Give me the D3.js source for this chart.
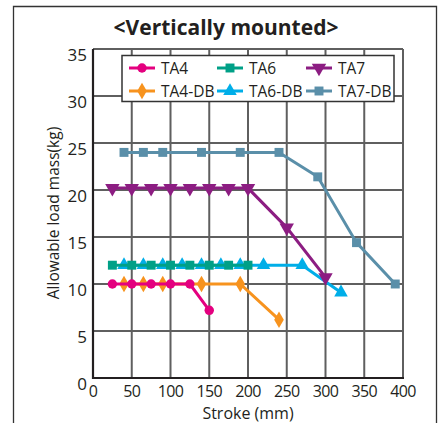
<!DOCTYPE html>
<html><head><meta charset="utf-8">
<script src="https://cdn.jsdelivr.net/npm/d3@7"></script>
<style>
body{margin:0;background:#fff;}
svg{display:block;font-family:"Open Sans","Noto Sans",sans-serif;}
</style></head>
<body><svg id="c" width="441" height="423"></svg>
<script>
const xTicks = [0,50,100,150,200,250,300,350,400];
const yTicks = [0,5,10,15,20,25,30,35];
const seriesNames = ["TA4","TA6","TA7","TA4-DB","TA6-DB","TA7-DB"];
const ta4   = [[25,10],[50,10],[75,10],[100,10],[125,10],[150,7.2]];
const ta4db = [[40,10],[65,10],[90,10],[140,10],[190,10],[240,6.2]];
const ta6   = [[25,12],[50,12],[75,12],[100,12],[125,12],[150,12],[175,12],[200,12]];
const ta6db = [[40,12],[65,12],[90,12],[115,12],[140,12],[165,12],[190,12],[220,12],[270,12],[320,9.1]];
const ta7   = [[25,20.2],[50,20.2],[75,20.2],[100,20.2],[125,20.2],[150,20.2],[175,20.2],[200,20.2],[250,16],[300,10.7]];
const ta7db = [[40,24],[65,24],[90,24],[140,24],[190,24],[240,24],[290,21.4],[340,14.4],[390,10]];

const colors = {"TA4":"#e4007f","TA6":"#00a087","TA7":"#8c1d82","TA4-DB":"#f7931e","TA6-DB":"#00aee8","TA7-DB":"#5a8fa9"};
const shapes = {"TA4":d3.symbolCircle,"TA6":d3.symbolSquare,"TA7":"down","TA4-DB":d3.symbolDiamond,"TA6-DB":d3.symbolTriangle,"TA7-DB":d3.symbolSquare};
const sizes = {"TA4":70,"TA6":80,"TA7":90,"TA4-DB":80,"TA6-DB":80,"TA7-DB":80};
const dataMap = {"TA4":ta4,"TA6":ta6,"TA7":ta7,"TA4-DB":ta4db,"TA6-DB":ta6db,"TA7-DB":ta7db};
const drawOrder = ["TA6-DB","TA6","TA4-DB","TA4","TA7","TA7-DB"];

const svg = d3.select("#c");
const x = d3.scaleLinear().domain([0,400]).range([93,403]);
const y = d3.scaleLinear().domain([0,35]).range([378,49]);

// outer frame
svg.append("path").attr("d","M13.5,423 V6.5 H436.5 V423").attr("fill","none").attr("stroke","#333").attr("stroke-width",1.3);

// title
svg.append("text").attr("x",226).attr("y",35).attr("text-anchor","middle")
  .attr("font-size",21).attr("font-weight","bold").attr("fill","#231f20").text("<Vertically mounted>");

// grid
const g = svg.append("g");
g.selectAll("line.vx").data(xTicks).join("line")
  .attr("x1",d=>x(d)).attr("x2",d=>x(d)).attr("y1",y(35)).attr("y2",y(0))
  .attr("stroke","#5f5f5f").attr("stroke-width",2);
g.selectAll("line.hy").data(yTicks).join("line")
  .attr("y1",d=>y(d)).attr("y2",d=>y(d)).attr("x1",x(0)).attr("x2",x(400))
  .attr("stroke","#5f5f5f").attr("stroke-width",2);
// axes
g.append("line").attr("x1",x(0)).attr("x2",x(0)).attr("y1",y(35)).attr("y2",y(0)+1).attr("stroke","#231f20").attr("stroke-width",2.2);
g.append("line").attr("x1",x(0)-1).attr("x2",x(400)+1).attr("y1",y(0)).attr("y2",y(0)).attr("stroke","#231f20").attr("stroke-width",2.2);

// tick labels
svg.append("g").selectAll("text").data(yTicks).join("text")
  .attr("x",87).attr("y",d=>y(d)+12).attr("text-anchor","end")
  .attr("font-size",17).attr("fill","#231f20").text(d=>d);
svg.append("g").selectAll("text").data(xTicks).join("text")
  .attr("x",d=>x(d)).attr("y",396.5).attr("text-anchor","middle")
  .attr("font-size",16).attr("letter-spacing",-0.6).attr("fill","#231f20").text(d=>d);

// axis titles
svg.append("text").attr("x",248).attr("y",419).attr("text-anchor","middle")
  .attr("font-size",16).attr("fill","#231f20").text("Stroke (mm)");
svg.append("text").attr("transform","translate(59,213) rotate(-90)").attr("text-anchor","middle")
  .attr("font-size",15.5).attr("fill","#231f20").text("Allowable load mass(kg)");

function sym(name){
  if(shapes[name]==="down") return d3.symbol().type(d3.symbolTriangle).size(sizes[name]);
  return d3.symbol().type(shapes[name]).size(sizes[name]);
}
const line = d3.line().x(d=>x(d[0])).y(d=>y(d[1]));
drawOrder.forEach(name=>{
  const data = dataMap[name];
  const gg = svg.append("g");
  gg.append("path").datum(data).attr("d",line).attr("fill","none")
    .attr("stroke",colors[name]).attr("stroke-width",3);
  gg.selectAll("path.m").data(data).join("path").attr("class","m")
    .attr("d",sym(name)())
    .attr("transform",d=>`translate(${x(d[0])},${y(d[1])})${shapes[name]==="down"?" rotate(180)":""}`)
    .attr("fill",colors[name]);
});

// legend
const lg = svg.append("g");
lg.append("rect").attr("x",122).attr("y",55.5).attr("width",272).attr("height",46)
  .attr("fill","#fff").attr("stroke","#333").attr("stroke-width",1.5);
const colX = [129,217,306];
const rowY = [68,91];
seriesNames.forEach((name,i)=>{
  const cx = colX[i%3], cy = rowY[Math.floor(i/3)];
  lg.append("line").attr("x1",cx).attr("x2",cx+26).attr("y1",cy).attr("y2",cy)
    .attr("stroke",colors[name]).attr("stroke-width",3);
  lg.append("path").attr("d",sym(name)())
    .attr("transform",`translate(${cx+13},${cy})${shapes[name]==="down"?" rotate(180)":""}`)
    .attr("fill",colors[name]);
  lg.append("text").attr("x",cx+32).attr("y",cy+6).attr("font-size",15.5)
    .attr("fill","#231f20").text(name);
});
</script></body></html>
